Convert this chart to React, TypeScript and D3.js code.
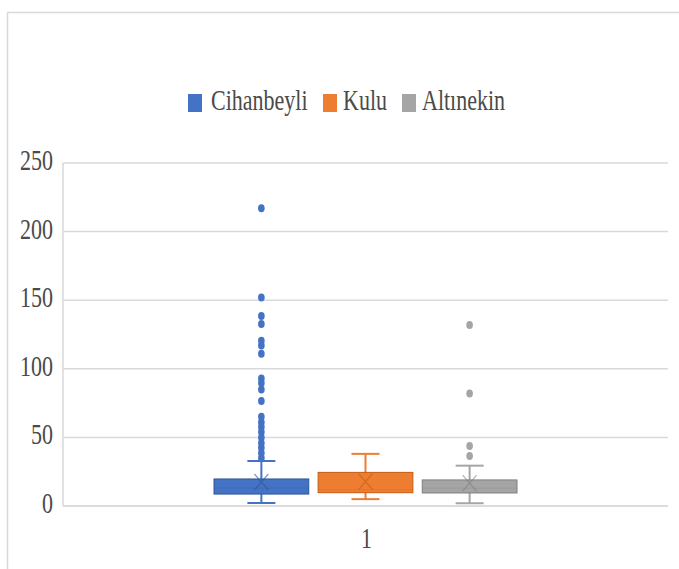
import React from "react";
import * as d3 from "d3";

const categories = ["1"];
const seriesNames = ["Cihanbeyli", "Kulu", "Altınekin"];
const seriesColors = ["#4472C4", "#ED7D31", "#A5A5A5"];
const seriesStroke = ["#2F5597", "#C55A11", "#7F7F7F"];
const whiskerLow = [2.2, 5, 2];
const q1 = [8.7, 9.7, 9.5];
const median = [13, 12, 13];
const q3 = [19.7, 24.5, 19];
const whiskerHigh = [32.8, 38, 29.4];
const means = [17.5, 17.7, 16.7];
const outliers = [
  [217, 152, 138.5, 132.6, 120.5, 117, 111, 93, 89.6, 85, 76.5, 65, 61, 57.5, 54, 50, 46, 42.5, 38.6, 35],
  [],
  [132, 82, 43.7, 36.4],
];
const yTicks = [0, 50, 100, 150, 200, 250];

const W = 679;
const H = 569;
const plot = { left: 63, right: 668, top: 163, bottom: 506 };
const FONT = "'Liberation Serif', 'Times New Roman', serif";
const SY = 1.35;

function SText({ x, y, size, anchor, fill, children }: any) {
  return (
    <text
      transform={`translate(${x},${y}) scale(1,${SY})`}
      fontFamily={FONT}
      fontSize={size}
      textAnchor={anchor || "start"}
      fill={fill || "#4a4a4a"}
    >
      {children}
    </text>
  );
}

export default function App() {
  const y = d3.scaleLinear().domain([0, 250]).range([plot.bottom, plot.top]);
  const x0 = d3.scaleBand().domain(categories).range([plot.left, plot.right]).paddingInner(0).paddingOuter(0);
  const x1 = d3
    .scaleBand()
    .domain(seriesNames)
    .range([x0("1")! + 151, x0("1")! + x0.bandwidth() - 151])
    .paddingInner(0.09)
    .paddingOuter(0);
  const capW = 28;
  const legendItems = [
    { sx: 188, tx: 211 },
    { sx: 323, tx: 343 },
    { sx: 402, tx: 422 },
  ];
  return (
    <svg
      width={W}
      height={H}
      style={{ position: "absolute", left: 0, top: 0, background: "#fff" }}
    >
      <rect x={7.5} y={12.5} width={W + 10} height={H + 10} fill="#fff" stroke="#D9D9D9" strokeWidth={1.5} />
      {yTicks.map((t) => (
        <g key={t}>
          <line x1={plot.left} x2={plot.right} y1={y(t)} y2={y(t)} stroke={t === 0 ? "#D0D0D0" : "#D9D9D9"} strokeWidth={1.5} />
          <SText x={53} y={y(t) + 7} size={22} anchor="end">{t}</SText>
        </g>
      ))}
      <line x1={plot.left} x2={plot.left} y1={plot.top} y2={plot.bottom} stroke="#D9D9D9" strokeWidth={1.5} />
      {categories.map((c) => (
        <SText key={c} x={x0(c)! + x0.bandwidth() / 2 + 1} y={548} size={22} anchor="middle">{c}</SText>
      ))}
      {seriesNames.map((s, i) => {
        const bx = x1(s)!;
        const bw = x1.bandwidth();
        const cx = bx + bw / 2;
        const col = seriesColors[i];
        const sc = seriesStroke[i];
        return (
          <g key={s}>
            <line x1={cx} x2={cx} y1={y(whiskerHigh[i])} y2={y(q3[i])} stroke={col} strokeWidth={2} />
            <line x1={cx} x2={cx} y1={y(q1[i])} y2={y(whiskerLow[i])} stroke={col} strokeWidth={2} />
            <line x1={cx - capW / 2} x2={cx + capW / 2} y1={y(whiskerHigh[i])} y2={y(whiskerHigh[i])} stroke={col} strokeWidth={2} />
            <line x1={cx - capW / 2} x2={cx + capW / 2} y1={y(whiskerLow[i])} y2={y(whiskerLow[i])} stroke={col} strokeWidth={2} />
            <rect x={bx} y={y(q3[i])} width={bw} height={y(q1[i]) - y(q3[i])} fill={col} stroke={sc} strokeWidth={1} />
            <line x1={bx} x2={bx + bw} y1={y(median[i])} y2={y(median[i])} stroke={sc} strokeWidth={1} opacity={0.25} />
            <g stroke={sc} strokeWidth={1.2} opacity={0.6}>
              <line x1={cx - 7} x2={cx + 7} y1={y(means[i]) - 8} y2={y(means[i]) + 8} />
              <line x1={cx + 7} x2={cx - 7} y1={y(means[i]) - 8} y2={y(means[i]) + 8} />
            </g>
            {outliers[i].map((v, j) => (
              <ellipse key={j} cx={cx} cy={y(v)} rx={3.3} ry={4} fill={col} />
            ))}
          </g>
        );
      })}
      {seriesNames.map((s, i) => (
        <g key={s}>
          <rect x={legendItems[i].sx} y={94} width={14} height={18} fill={seriesColors[i]} />
          <SText x={legendItems[i].tx} y={110} size={22}>{s}</SText>
        </g>
      ))}
    </svg>
  );
}
